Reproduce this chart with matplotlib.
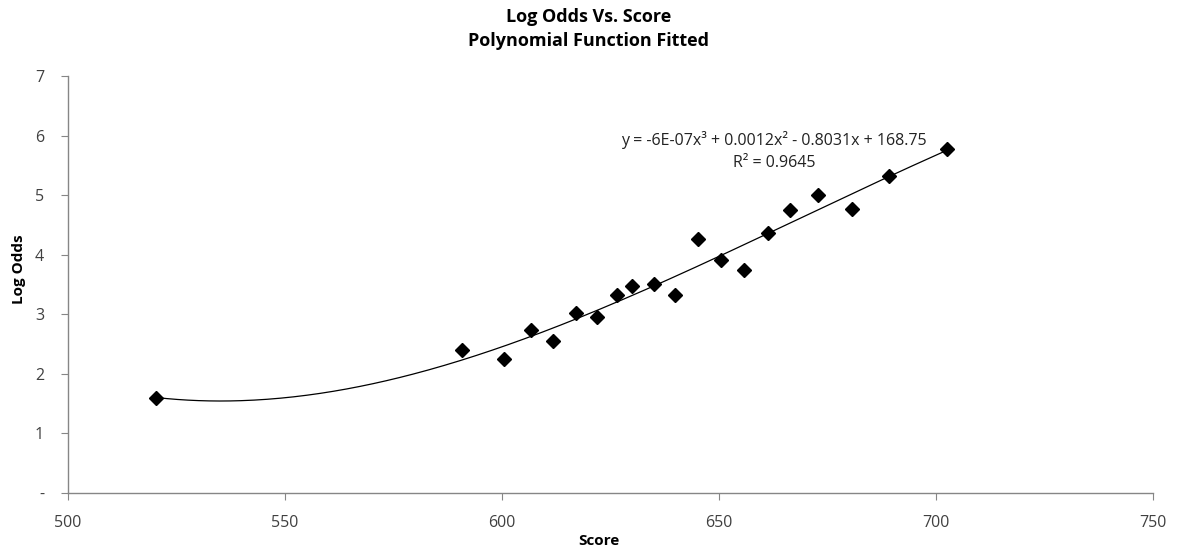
import numpy as np
import matplotlib.pyplot as plt
from matplotlib.ticker import FuncFormatter

plt.rcParams['font.family'] = ['Open Sans', 'DejaVu Sans']

# scores and log odds
score = [520.4, 590.9, 600.5, 606.7, 611.8, 617.2, 621.9, 626.6, 630.1, 635.1,
         640.0, 645.1, 650.4, 655.9, 661.3, 666.5, 672.8, 680.7, 689.2, 702.5]
log_odds = [1.60, 2.41, 2.25, 2.73, 2.55, 3.02, 2.95, 3.33, 3.48, 3.51,
            3.33, 4.26, 3.92, 3.75, 4.36, 4.76, 5.00, 4.77, 5.32, 5.78]

title = 'Log Odds Vs. Score\nPolynomial Function Fitted'
equation = 'y = -6E-07x³ + 0.0012x² - 0.8031x + 168.75\nR² = 0.9645'

fig = plt.figure(figsize=(11.78, 5.56), dpi=100)
ax = fig.add_axes([0.0574, 0.1133, 0.9214, 0.7495])

# cubic trendline through the points
coef = np.polyfit(score, log_odds, 3)
xs = np.linspace(min(score), max(score), 300)
ax.plot(xs, np.polyval(coef, xs), color='black', lw=0.9, zorder=2)
ax.plot(score, log_odds, 'D', color='black', markersize=7.5, zorder=3)

ax.set_xlim(500, 750)
ax.set_ylim(0, 7)
ax.set_xticks(range(500, 751, 50))
ax.set_yticks(range(0, 8))
ax.yaxis.set_major_formatter(FuncFormatter(lambda v, p: '-' if v == 0 else '%d' % v))

for s in ['top', 'right']:
    ax.spines[s].set_visible(False)
for s in ['left', 'bottom']:
    ax.spines[s].set_color('#868686')
    ax.spines[s].set_linewidth(1)
ax.tick_params(direction='out', length=5, color='#868686', labelsize=11.5,
               labelcolor='#404040')
ax.tick_params(axis='x', pad=11)
ax.tick_params(axis='y', pad=12)

fig.text(0.5, 0.986, title, ha='center', va='top', fontsize=13, fontweight='bold',
         linespacing=1.45)
fig.text(0.508, 0.015, 'Score', ha='center', va='bottom', fontsize=11, fontweight='bold')
fig.text(0.010, 0.515, 'Log Odds', ha='left', va='center', rotation=90,
         fontsize=11, fontweight='bold')
fig.text(0.657, 0.728, equation, ha='center', va='center', fontsize=11.5,
         multialignment='center', color='#222222', linespacing=1.5)

fig.savefig('out.png', dpi=100)
